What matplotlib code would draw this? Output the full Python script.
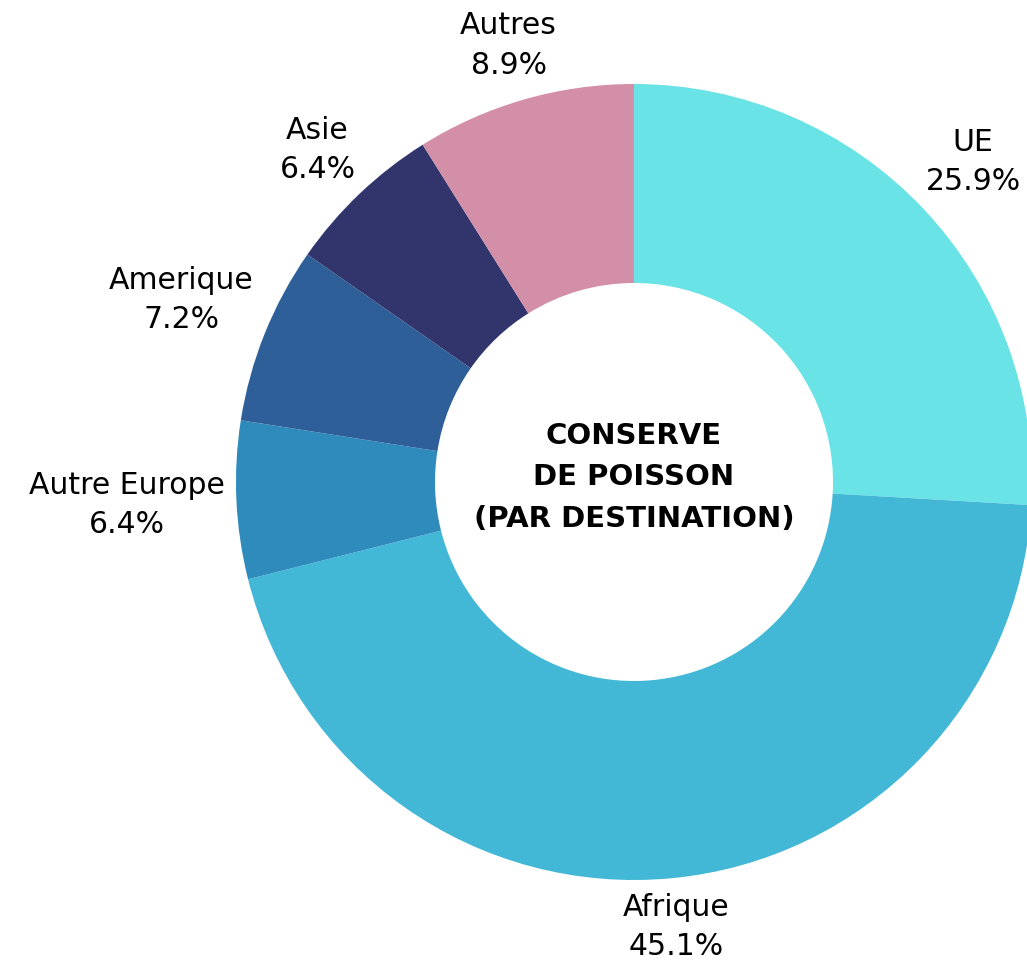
import matplotlib.pyplot as plt
import numpy as np

# données
categories = ['UE', 'Afrique', 'Autre Europe', 'Amerique', 'Asie', 'Autres']
parts = [25.9, 45.1, 6.4, 7.2, 6.4, 8.9]
colors = ['#6ae3e6', '#42b7d6', '#2e8bbb', '#2e5f98', '#32356c', '#d48fa8']
center_title = 'CONSERVE\nDE POISSON\n(PAR DESTINATION)'

plt.rcParams['font.family'] = ['DejaVu Sans']

W, H = 1027, 964
fig = plt.figure(figsize=(W / 100, H / 100), dpi=100)
cx, cy, R = 634, 482, 398
ax = fig.add_axes([(cx - R) / W, (H - cy - R) / H, 2 * R / W, 2 * R / H])

wedges, _ = ax.pie(parts, colors=colors, startangle=90, counterclock=False,
                   radius=1.0, wedgeprops=dict(width=0.5, linewidth=0))
ax.set_xlim(-1, 1)
ax.set_ylim(-1, 1)
ax.set_aspect('equal')
ax.axis('off')

ax.text(0, 0.012, center_title, ha='center', va='center', fontsize=21,
        fontweight='bold', linespacing=1.62, color='black')

# étiquettes centrées, placées juste à l'extérieur de l'anneau
renderer = fig.canvas.get_renderer()
px = R  # pixels par unité
for w, cat, p in zip(wedges, categories, parts):
    th = np.deg2rad((w.theta1 + w.theta2) / 2)
    ux, uy = np.cos(th), np.sin(th)
    t = ax.text(0, 0, f'{cat}\n{p}%', ha='center', va='center', fontsize=21.5,
                linespacing=1.45, color='black')
    bb = t.get_window_extent(renderer)
    hw, hh = bb.width / 2 / px, bb.height / 2 / px
    d = 1.025 + hw * abs(ux) + hh * abs(uy)
    t.set_position((ux * d, uy * d))
    t.set_clip_on(False)

fig.savefig('out.png', dpi=100)
